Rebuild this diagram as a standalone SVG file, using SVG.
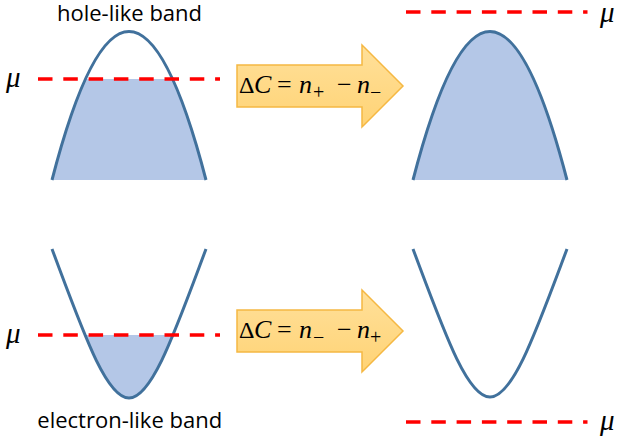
<svg xmlns="http://www.w3.org/2000/svg" width="621" height="443" viewBox="0 0 621 443">
<style>
.band{fill:none;stroke:#41719C;stroke-width:3;stroke-linecap:butt}
.fill{fill:#B4C7E7;stroke:none}
.mu-line{stroke:#FF0000;stroke-width:3.5;stroke-dasharray:14.5 10.8;fill:none}
.mu{font-family:"Liberation Serif",serif;font-style:italic;font-size:29px;fill:#000}
.label{font-family:"Open Sans","Liberation Sans",sans-serif;font-size:22px;fill:#000;text-anchor:middle}
.arrow{fill:url(#ag);stroke:#F5B843;stroke-width:1.5}
.eq{font-family:"Liberation Serif",serif;font-size:26px;fill:#000}
.it{font-style:italic}
.d{font-size:24px}
.sub{font-size:20px}
</style>
<defs>
<linearGradient id="ag" x1="0" y1="0" x2="0" y2="1">
<stop offset="0" stop-color="#FFE09A"/>
<stop offset="1" stop-color="#FFD375"/>
</linearGradient>
<clipPath id="clipTop"><rect x="0" y="79" width="621" height="102"/></clipPath>
<clipPath id="clipBot"><rect x="0" y="335" width="621" height="70"/></clipPath>
</defs>

<g id="hole-band-before">
<path class="fill" d="M52,180 Q129,-117 206,180 Z" clip-path="url(#clipTop)"/>
<path class="band" d="M52,180 Q129,-117 206,180"/>
<text class="label" x="129.5" y="21">hole-like band</text>
</g>

<g id="hole-band-after">
<path class="fill" d="M413,180 Q490,-117 567,180 Z"/>
<path class="band" d="M413,180 Q490,-117 567,180"/>
</g>

<g id="electron-band-before">
<path class="fill" d="M52,249 C82.8,331 105.9,398 129,398 C152.1,398 175.2,331 206,249 Z" clip-path="url(#clipBot)"/>
<path class="band" d="M52,249 C82.8,331 105.9,398 129,398 C152.1,398 175.2,331 206,249"/>
<text class="label" x="129.7" y="428">electron-like band</text>
</g>

<g id="electron-band-after">
<path class="band" d="M413,249 C443.8,331 466.9,397 490,397 C513.1,397 536.2,331 567,249"/>
</g>

<g id="chemical-potentials">
<line class="mu-line" x1="38" y1="79" x2="220" y2="79"/>
<text class="mu" x="6" y="87">μ</text>
<line class="mu-line" x1="406" y1="12" x2="587.5" y2="12"/>
<text class="mu" x="600" y="22">μ</text>
<line class="mu-line" x1="38" y1="335" x2="220" y2="335"/>
<text class="mu" x="6" y="343">μ</text>
<line class="mu-line" x1="406" y1="422" x2="587.5" y2="422"/>
<text class="mu" x="600" y="430">μ</text>
</g>

<g id="connectors">
<g id="arrow-top">
<path class="arrow" d="M237,65 L362,65 L362,45 L403,86 L362,127 L362,107 L237,107 Z"/>
<text class="eq" y="93"><tspan class="d" x="239">Δ</tspan><tspan class="it" x="254">C</tspan><tspan x="277">=</tspan><tspan class="it" x="299">n</tspan><tspan class="sub" x="313" y="99">+</tspan><tspan x="337" y="93">−</tspan><tspan class="it" x="357">n</tspan><tspan class="sub" x="370" y="99">−</tspan></text>
</g>
<g id="arrow-bottom">
<path class="arrow" d="M237,310 L362,310 L362,290 L403,331 L362,372 L362,352 L237,352 Z"/>
<text class="eq" y="338"><tspan class="d" x="239">Δ</tspan><tspan class="it" x="254">C</tspan><tspan x="277">=</tspan><tspan class="it" x="299">n</tspan><tspan class="sub" x="313" y="344">−</tspan><tspan x="337" y="338">−</tspan><tspan class="it" x="357">n</tspan><tspan class="sub" x="370" y="344">+</tspan></text>
</g>
</g>
</svg>
